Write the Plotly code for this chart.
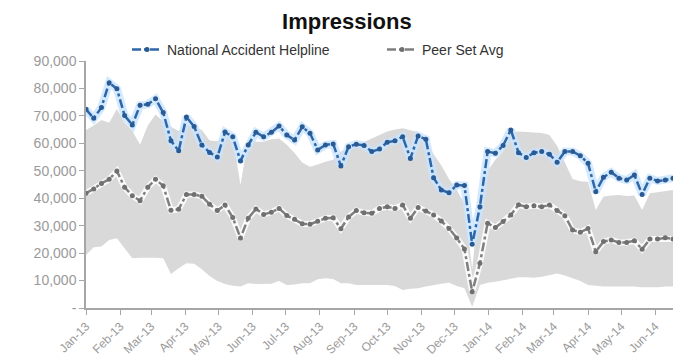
import pandas as pd
import plotly.graph_objects as go

# Weekly dates (77 weeks, Jan 1 2013 .. Jun 17 2014)
weeks = pd.date_range("2013-01-01", periods=77, freq="7D")

# National Accident Helpline impressions (thousands)
nah = [72.4, 69.1, 73.1, 82.1, 79.9, 70.1, 66.7, 73.9, 74.2, 76.2,
       71.2, 60.9, 57.3, 69.6, 66.1, 59.4, 56.7, 55.0, 64.1, 62.4,
       53.6, 59.4, 64.0, 62.4, 64.0, 66.3, 63.0, 61.2, 66.0, 63.7,
       57.6, 59.4, 59.8, 51.7, 58.8, 59.7, 59.2, 57.0, 57.9, 60.4,
       60.9, 62.4, 54.5, 62.7, 61.5, 47.5, 43.0, 42.0, 44.8, 44.6,
       23.2, 36.9, 57.0, 56.4, 59.2, 64.9, 56.6, 54.8, 56.6, 57.0,
       56.0, 53.1, 57.0, 57.0, 55.5, 52.7, 42.4, 47.6, 49.5, 47.3,
       46.6, 48.5, 41.4, 47.3, 46.3, 46.6, 47.3]

# Peer set average (thousands)
peer = [41.8, 43.4, 45.4, 46.9, 49.9, 44.0, 40.9, 39.1, 44.0, 46.9,
        44.5, 35.6, 36.0, 41.4, 41.4, 40.7, 37.8, 35.5, 37.5, 33.0,
        25.5, 32.7, 36.1, 34.1, 34.9, 36.3, 33.7, 32.3, 30.7, 30.5,
        31.6, 32.7, 32.9, 28.9, 33.2, 35.5, 34.7, 34.5, 36.3, 36.9,
        36.3, 37.5, 32.7, 36.6, 35.3, 33.9, 31.7, 29.0, 25.5, 21.5,
        5.9, 16.3, 30.9, 29.3, 31.5, 33.9, 37.6, 36.9, 37.3, 36.9,
        37.5, 35.5, 33.6, 28.4, 27.6, 29.0, 20.5, 24.2, 24.8, 23.9,
        23.9, 24.5, 21.4, 25.1, 25.1, 25.6, 25.1]

# Peer set range: min and max (thousands)
peer_min = [19.3, 22.1, 22.4, 24.8, 25.4, 21.8, 18.1, 18.3, 18.4, 18.3,
            18.1, 12.4, 14.5, 16.3, 16.1, 14.1, 11.7, 9.8, 8.7, 8.1,
            7.8, 9.0, 8.7, 8.7, 8.8, 9.8, 8.4, 8.6, 9.0, 9.0,
            10.5, 10.8, 10.6, 9.0, 9.0, 8.4, 8.4, 8.4, 8.4, 8.4,
            8.0, 6.6, 7.0, 7.2, 7.8, 8.4, 8.8, 9.2, 8.0, 7.2,
            0.5, 8.4, 9.2, 9.6, 10.2, 10.8, 11.2, 11.2, 11.0, 11.4,
            12.0, 12.6, 11.8, 10.8, 9.8, 8.4, 8.0, 7.8, 7.8, 7.8,
            7.9, 7.8, 7.6, 7.5, 7.6, 7.8, 7.8]
peer_max = [64.9, 66.5, 68.5, 67.5, 72.5, 67.5, 64.5, 59.5, 66.5, 70.5,
            68.0, 66.0, 64.5, 66.7, 66.0, 64.9, 61.0, 60.8, 63.0, 62.4,
            44.8, 61.2, 60.6, 60.6, 61.5, 61.8, 59.5, 56.5, 53.0, 51.5,
            52.3, 53.3, 54.0, 57.0, 58.5, 59.4, 60.5, 61.8, 63.0, 64.3,
            65.0, 65.5, 64.8, 64.0, 61.0, 56.0, 52.0, 47.0, 43.0, 38.0,
            14.0, 42.0, 50.0, 54.0, 57.0, 64.0, 64.3, 64.2, 64.0, 63.8,
            63.0, 59.0, 53.0, 47.0, 46.2, 46.0, 35.7, 40.6, 41.0, 41.2,
            40.8, 41.0, 35.7, 41.8, 42.2, 42.6, 43.0]

y_ticks = [0, 10000, 20000, 30000, 40000, 50000, 60000, 70000, 80000, 90000]
y_tick_text = ["-", "10,000", "20,000", "30,000", "40,000", "50,000",
               "60,000", "70,000", "80,000", "90,000"]

k = lambda arr: [v * 1000 for v in arr]

FONT = "Liberation Sans, Arial, sans-serif"
BLUE = "#2F66A8"
GREY = "#7F7F7F"

fig = go.Figure()

# range band
fig.add_trace(go.Scatter(x=weeks, y=k(peer_min), mode="lines",
                         line=dict(width=0, color="rgba(0,0,0,0)"),
                         showlegend=False, hoverinfo="skip"))
fig.add_trace(go.Scatter(x=weeks, y=k(peer_max), mode="lines",
                         line=dict(width=0, color="rgba(0,0,0,0)"),
                         fill="tonexty", fillcolor="#D9D9D9",
                         showlegend=False, hoverinfo="skip"))

# glows
fig.add_trace(go.Scatter(x=weeks, y=k(peer), mode="lines",
                         line=dict(width=6, color="rgba(255,255,255,0.85)"),
                         showlegend=False, hoverinfo="skip"))
fig.add_trace(go.Scatter(x=weeks, y=k(nah), mode="lines",
                         line=dict(width=8, color="rgba(200,228,255,0.8)"),
                         showlegend=False, hoverinfo="skip"))

fig.add_trace(go.Scatter(x=weeks, y=k(nah), mode="lines+markers",
                         name="National Accident Helpline",
                         line=dict(width=2.5, color=BLUE, dash="dashdot"),
                         marker=dict(size=5, color="#2A5A94")))
fig.add_trace(go.Scatter(x=weeks, y=k(peer), mode="lines+markers",
                         name="Peer Set Avg",
                         line=dict(width=2.5, color=GREY, dash="dashdot"),
                         marker=dict(size=5, color="#707070")))

fig.update_layout(
    width=698, height=360,
    margin=dict(l=86, r=25, t=61, b=52, autoexpand=False),
    paper_bgcolor="white", plot_bgcolor="white",
    font=dict(family=FONT, color="#404040"),
    title=dict(text="<b>Impressions</b>", x=0.497, xref="container",
               xanchor="center", y=1 - 21 / 360, yref="container",
               yanchor="middle", font=dict(size=22, color="#111111", family=FONT)),
    legend=dict(orientation="h", xref="container", yref="container",
                x=127 / 698, y=1 - 34 / 360, xanchor="left", yanchor="top",
                font=dict(size=14, color="#333333", family=FONT),
                entrywidth=210, entrywidthmode="pixels",
                bgcolor="rgba(0,0,0,0)", borderwidth=0, traceorder="normal",
                itemwidth=30),
    showlegend=True,
)

fig.update_xaxes(
    type="date", range=["2013-01-01", "2014-06-17"],
    tickformat="%b-%y", dtick="M1", tick0="2013-01-01",
    tickangle=-45, tickfont=dict(size=12, color="#9A9A9A", family=FONT),
    showline=True, linecolor="#A6A6A6", linewidth=1.5,
    ticks="outside", ticklen=5, tickcolor="#A6A6A6",
    showgrid=False, zeroline=False, automargin=False,
)
fig.update_yaxes(
    range=[0, 90000], tickvals=y_ticks, ticktext=y_tick_text,
    tickfont=dict(size=14, color="#9A9A9A", family=FONT),
    showline=True, linecolor="#A6A6A6", linewidth=1.5,
    ticks="outside", ticklen=5, tickcolor="#A6A6A6",
    showgrid=False, zeroline=False, automargin=False,
)

fig.write_html("out.html")
